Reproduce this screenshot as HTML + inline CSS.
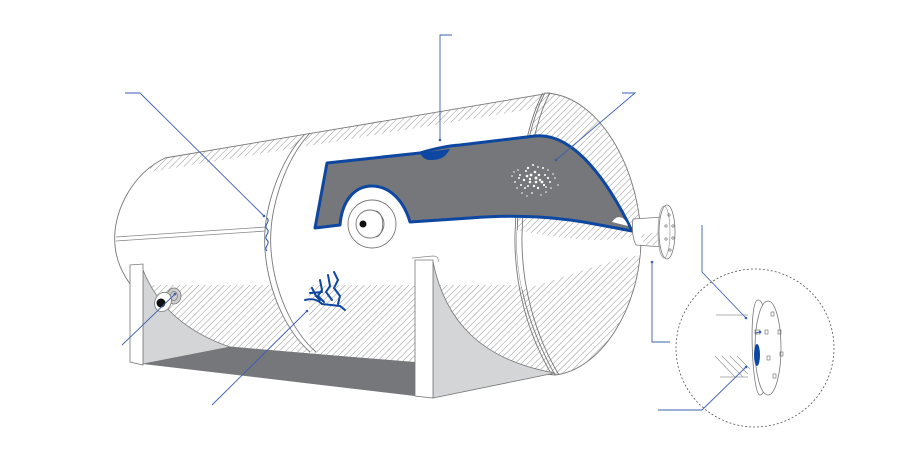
<!DOCTYPE html>
<html><head><meta charset="utf-8"><style>html,body{margin:0;padding:0;background:#fff}svg{display:block}</style></head><body>
<svg width="902" height="450" viewBox="0 0 902 450" xmlns="http://www.w3.org/2000/svg">
<defs>
<pattern id="h" patternUnits="userSpaceOnUse" width="4.5" height="4.5" patternTransform="rotate(45)">
<line x1="0" y1="0" x2="0" y2="4.5" stroke="#8a8a8a" stroke-width="0.9"/>
</pattern>
<clipPath id="body"><path d="M165,158 L550,93 L555,375 L230,347 C170,330 118,290 115,245 C112,215 130,175 165,158 Z"/></clipPath>
<clipPath id="cap"><path d="M545,93 C600,95 640,170 641,240 C640,310 600,370 555,375 C530,330 515,280 517,235 C518,180 530,120 545,93 Z"/></clipPath>
</defs>

<!-- body -->
<path d="M165,158 L550,93 L555,375 L230,347 C170,330 118,290 115,245 C112,215 130,175 165,158 Z" fill="#fff" stroke="#777" stroke-width="0.9"/>
<g clip-path="url(#body)">
 <path d="M150,172 L550,106 L550,88 L150,150 Z" fill="url(#h)"/>
 <rect x="60" y="285" width="520" height="100" fill="url(#h)"/>
</g>
<path d="M116,237 L266,227 M116,241 L266,231" stroke="#888" stroke-width="0.8"/>

<!-- left ring -->
<path d="M305,134 C280,160 262,210 265,250 C268,290 285,330 310,352" fill="#fff" stroke="#777" stroke-width="0.9"/>
<path d="M310,133 C285,160 268,210 271,250 C274,290 291,330 316,352" fill="none" stroke="#777" stroke-width="0.9"/>

<!-- right cap -->
<path d="M545,93 C600,95 640,170 641,240 C640,310 600,370 555,375 C530,330 515,280 517,235 C518,180 530,120 545,93 Z" fill="#fff" stroke="#777" stroke-width="0.9"/>
<g clip-path="url(#cap)">
 <rect x="500" y="80" width="150" height="300" fill="url(#h)"/>
 <path d="M515,230 C560,238 600,245 640,235 L640,255 C600,262 560,280 520,290 Z" fill="#fff"/>
</g>
<path d="M543,93 C528,120 516,180 515,235 C514,285 528,335 552,375" fill="none" stroke="#777" stroke-width="0.9"/>
<path d="M550,93 C535,120 523,180 522,235 C521,285 535,335 559,375" fill="none" stroke="#777" stroke-width="0.9"/>

<!-- cutaway -->
<path d="M327,163 L420,153 C430,150 445,146 460,145 L535,136 C575,132 610,185 632,231 L600,225 C560,217 520,214 470,218 L410,222 C402,195 385,186 372,186 C355,186 342,200 340,225 L315,228 Z" fill="#76777b" stroke="#0d47a1" stroke-width="3" stroke-linejoin="round"/>
<path d="M420,153 L450,149 C445,158 440,160 430,160 C425,160 422,157 420,153Z" fill="#0d47a1"/>
<path d="M612,222 C617,214 625,216 628,226 Z" fill="#fff"/>
<g fill="#fff">
<circle cx="520" cy="175" r="1"/><circle cx="528" cy="168" r="1.2"/><circle cx="535" cy="172" r="1.3"/><circle cx="540" cy="180" r="1.2"/><circle cx="530" cy="182" r="1.3"/><circle cx="545" cy="175" r="1"/><circle cx="525" cy="188" r="1"/><circle cx="550" cy="182" r="1"/><circle cx="538" cy="188" r="1.2"/><circle cx="533" cy="165" r="1"/><circle cx="543" cy="168" r="1"/><circle cx="515" cy="182" r="0.9"/><circle cx="555" cy="178" r="0.8"/><circle cx="522" cy="193" r="0.8"/><circle cx="546" cy="192" r="0.8"/><circle cx="536" cy="178" r="1.5"/><circle cx="527" cy="176" r="1.3"/><circle cx="544" cy="185" r="1.1"/><circle cx="518" cy="170" r="0.8"/><circle cx="532" cy="193" r="0.9"/><circle cx="548" cy="170" r="0.8"/><circle cx="512" cy="176" r="0.8"/><circle cx="558" cy="185" r="0.7"/>
<circle cx="524" cy="180" r="1.2"/><circle cx="531" cy="175" r="1.4"/><circle cx="539" cy="175" r="1.2"/><circle cx="542" cy="182" r="1.4"/><circle cx="534" cy="186" r="1.2"/><circle cx="528" cy="186" r="1"/><circle cx="521" cy="185" r="1"/><circle cx="548" cy="178" r="1.1"/><circle cx="551" cy="188" r="0.8"/><circle cx="517" cy="188" r="0.8"/><circle cx="526" cy="171" r="1"/><circle cx="538" cy="167" r="0.9"/><circle cx="553" cy="174" r="0.8"/><circle cx="541" cy="195" r="0.7"/><circle cx="527" cy="196" r="0.7"/><circle cx="514" cy="172" r="0.7"/><circle cx="536" cy="182" r="1.3"/><circle cx="530" cy="179" r="1.2"/><circle cx="546" cy="187" r="0.9"/><circle cx="519" cy="178" r="1"/>
</g>

<!-- nozzle -->
<circle cx="372" cy="224" r="24" fill="#fff" stroke="#777" stroke-width="0.9"/>
<circle cx="370" cy="224" r="14" fill="#fff" stroke="#777" stroke-width="0.9"/>
<path d="M376,211 C385,213 385,235 376,237" fill="none" stroke="#777" stroke-width="0.9"/>
<circle cx="363" cy="224" r="3.5" fill="#111"/>

<!-- saddles -->
<path d="M143,270 C150,300 180,330 230,347 L415,362 L415,396 L143,364 Z" fill="#76777b"/>
<path d="M143,270 C155,300 180,330 230,347 L143,364Z" fill="#d4d5d7" stroke="#777" stroke-width="0.8"/>
<path d="M130,265 L143,264 L143,365 L130,362 Z" fill="#fff" stroke="#777" stroke-width="0.8"/>
<path d="M433,262 C445,320 480,360 555,373 L433,398 Z" fill="#d4d5d7" stroke="#777" stroke-width="0.8"/>
<path d="M415,260 L433,260 L433,398 L415,396 Z" fill="#fff" stroke="#777" stroke-width="0.8"/>
<path d="M412,258 L433,256 C440,256 438,262 438,262" fill="none" stroke="#888" stroke-width="0.7"/>

<!-- left small nozzle -->
<ellipse cx="174" cy="296" rx="7" ry="8" fill="#ccc" stroke="#777" stroke-width="0.8"/>
<ellipse cx="174" cy="296" rx="3.5" ry="4.5" fill="none" stroke="#777" stroke-width="0.7"/>
<ellipse cx="163" cy="302" rx="8" ry="10" fill="#fff" stroke="#777" stroke-width="0.8" transform="rotate(25 163 302)"/>
<circle cx="161" cy="303" r="4.5" fill="#111"/>

<!-- weld wave -->
<path d="M267,218 C271,222 263,225 267,229 C271,233 263,236 267,240 C271,244 263,247 267,251" fill="none" stroke="#2a55b0" stroke-width="1"/>
<!-- cracks -->
<g fill="none" stroke="#0d47a1" stroke-width="2" stroke-linecap="round">
<path d="M305,300 C312,298 318,300 322,304 L340,306 L345,310"/>
<path d="M312,288 L316,296 L320,300"/>
<path d="M320,280 L322,290 L318,296 L324,302"/>
<path d="M328,275 L330,286 L326,292 L332,300"/>
<path d="M334,272 L338,280 L334,288 L340,296 L338,304"/>
<path d="M322,292 L310,293"/>
</g>

<!-- right flange -->
<path d="M633,219 L663,217 L663,247 L636,245 C632,238 632,226 633,219Z" fill="#fff" stroke="#777" stroke-width="0.8"/>
<path d="M640,235 L660,232 L660,245 L645,245Z" fill="url(#h)"/>
<ellipse cx="667" cy="232" rx="8" ry="27" fill="#fff" stroke="#777" stroke-width="0.8"/>
<ellipse cx="664" cy="232" rx="6" ry="26" fill="none" stroke="#888" stroke-width="0.6"/>
<g fill="none" stroke="#666" stroke-width="0.6"><circle cx="669" cy="215" r="1.2"/><circle cx="666" cy="226" r="1.2"/><circle cx="673" cy="226" r="1.2"/><circle cx="666" cy="239" r="1.2"/><circle cx="673" cy="238" r="1.2"/><circle cx="670" cy="250" r="1.2"/></g>

<!-- detail circle -->
<circle cx="755" cy="348" r="79" fill="none" stroke="#555" stroke-width="0.8" stroke-dasharray="2,2"/>
<path d="M716,315 L748,315 M720,377 L748,377" stroke="#999" stroke-width="0.7"/>
<g stroke="#999" stroke-width="0.7"><line x1="715" y1="356" x2="735" y2="377"/><line x1="722" y1="356" x2="743" y2="377"/><line x1="730" y1="356" x2="748" y2="374"/><line x1="737" y1="356" x2="750" y2="369"/></g>
<path d="M758,300 C770,298 772,395 760,395 C752,395 748,300 758,300Z" fill="#fff" stroke="#777" stroke-width="0.8"/>
<ellipse cx="768" cy="348" rx="13" ry="47" fill="#fff" stroke="#777" stroke-width="0.8"/>
<ellipse cx="757" cy="355" rx="3" ry="11" fill="#0d47a1"/>
<g fill="none" stroke="#666" stroke-width="0.6"><rect x="771" y="312" width="3" height="4"/><rect x="765" y="330" width="3" height="4"/><rect x="778" y="330" width="3" height="4"/><rect x="767" y="356" width="3" height="4"/><rect x="780" y="352" width="3" height="4"/><rect x="773" y="374" width="3" height="4"/><rect x="755" y="330" width="5" height="4"/></g>

<!-- leaders -->
<g fill="none" stroke="#3a5fb0" stroke-width="0.9">
<path d="M125,93 L140,93 L264,216"/>
<path d="M452,35 L440,35 L440,140"/>
<path d="M622,93 L635,93 L556,160"/>
<path d="M122,345 L175,294"/>
<path d="M212,405 L307,311"/>
<path d="M652,262 L652,342 L670,342"/>
<path d="M702,225 L702,272 L746,318"/>
<path d="M658,410 L702,410 L746,367"/>
<path d="M755,333 L760,332"/>
</g>
<g fill="#3a5fb0"><circle cx="264" cy="216" r="1.3"/><circle cx="440" cy="140" r="1.3"/><circle cx="556" cy="160" r="1.3"/><circle cx="175" cy="294" r="1.3"/><circle cx="307" cy="311" r="1.3"/><circle cx="652" cy="262" r="1.3"/><circle cx="746" cy="318" r="1.3"/><circle cx="746" cy="367" r="1.3"/><circle cx="760" cy="332" r="1.3"/></g>
</svg>
</body></html>
